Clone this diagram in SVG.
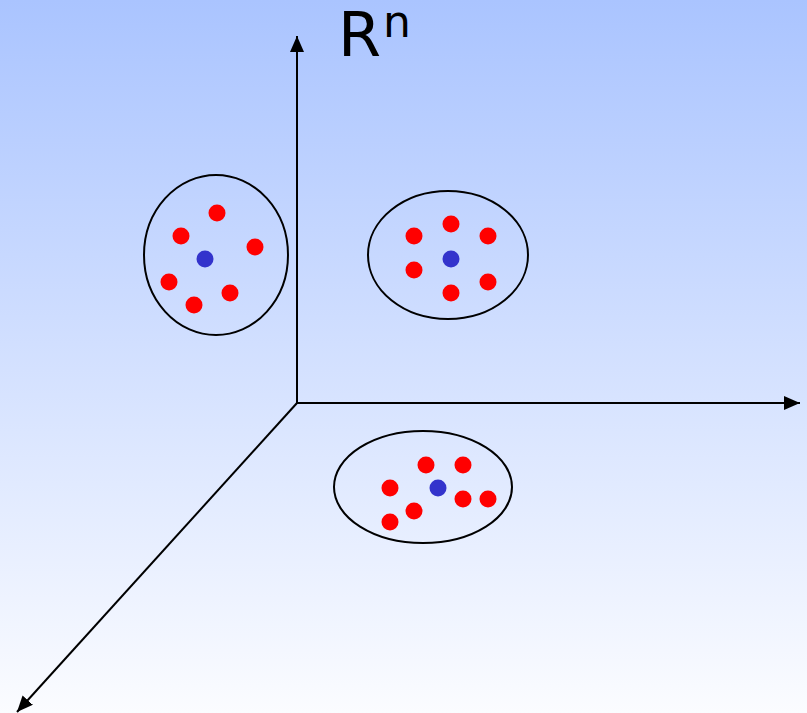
<svg xmlns="http://www.w3.org/2000/svg" width="807" height="713" viewBox="0 0 807 713">
<defs>
<linearGradient id="bg" x1="0" y1="0" x2="0" y2="1">
<stop offset="0" stop-color="#aac4ff"/>
<stop offset="1" stop-color="#fbfcff"/>
</linearGradient>
<marker id="ah" viewBox="0 0 16 14" refX="16" refY="7" markerWidth="16" markerHeight="14" markerUnits="userSpaceOnUse" orient="auto">
<path d="M0,0 L16,7 L0,14 Z" fill="#000"/>
</marker>
<style>
.ax{stroke:#000;stroke-width:2;fill:none}
.cl{fill:none;stroke:#000;stroke-width:2}
.r{fill:#ff0000}
.b{fill:#3333cc}
.t{font-family:"DejaVu Sans",sans-serif;fill:#000}
</style>
</defs>
<rect width="807" height="713" fill="url(#bg)"/>
<g id="axes">
<line class="ax" x1="297" y1="403" x2="297" y2="36" marker-end="url(#ah)"/>
<line class="ax" x1="297" y1="403" x2="800" y2="403" marker-end="url(#ah)"/>
<line class="ax" x1="297" y1="403" x2="17" y2="712" marker-end="url(#ah)"/>
</g>
<g id="label">
<text class="t" x="338" y="56" font-size="62">R</text>
<text class="t" x="383" y="37" font-size="44">n</text>
</g>
<g id="cluster1">
<ellipse class="cl" cx="216" cy="255" rx="72" ry="80"/>
<circle class="r" cx="217" cy="213" r="8.5"/>
<circle class="r" cx="181" cy="236" r="8.5"/>
<circle class="r" cx="255" cy="247" r="8.5"/>
<circle class="b" cx="205" cy="259" r="8.5"/>
<circle class="r" cx="169" cy="282" r="8.5"/>
<circle class="r" cx="194" cy="305" r="8.5"/>
<circle class="r" cx="230" cy="293" r="8.5"/>
</g>
<g id="cluster2">
<ellipse class="cl" cx="448" cy="255" rx="80" ry="64"/>
<circle class="r" cx="451" cy="224" r="8.5"/>
<circle class="r" cx="414" cy="236" r="8.5"/>
<circle class="r" cx="488" cy="236" r="8.5"/>
<circle class="b" cx="451" cy="259" r="8.5"/>
<circle class="r" cx="414" cy="270" r="8.5"/>
<circle class="r" cx="488" cy="282" r="8.5"/>
<circle class="r" cx="451" cy="293" r="8.5"/>
</g>
<g id="cluster3">
<ellipse class="cl" cx="423" cy="487" rx="89" ry="56"/>
<circle class="r" cx="426" cy="465" r="8.5"/>
<circle class="r" cx="463" cy="465" r="8.5"/>
<circle class="r" cx="390" cy="488" r="8.5"/>
<circle class="b" cx="438" cy="488" r="8.5"/>
<circle class="r" cx="463" cy="499" r="8.5"/>
<circle class="r" cx="488" cy="499" r="8.5"/>
<circle class="r" cx="414" cy="511" r="8.5"/>
<circle class="r" cx="390" cy="522" r="8.5"/>
</g>
</svg>
